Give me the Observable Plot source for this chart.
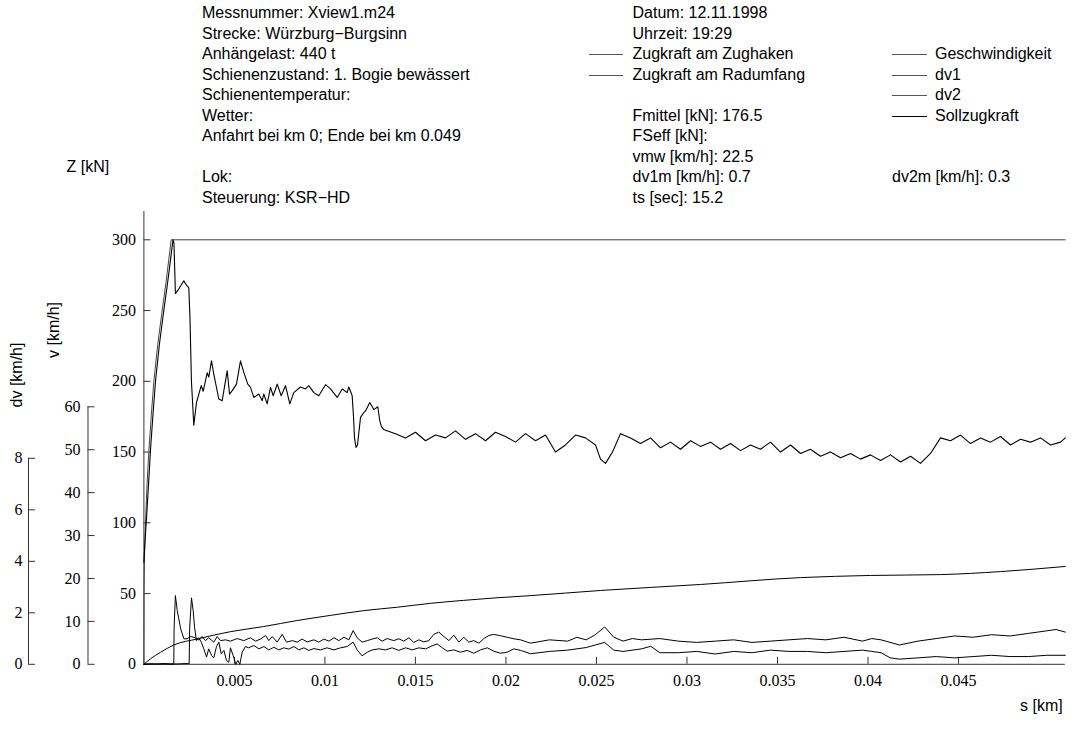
<!DOCTYPE html>
<html><head><meta charset="utf-8">
<script src="https://cdn.jsdelivr.net/npm/d3@7"></script>
<script src="https://cdn.jsdelivr.net/npm/@observablehq/plot@0.6"></script>
<style>
body{margin:0;background:#fff;}
#wrap{position:relative;width:1087px;height:732px;overflow:hidden;font-family:"Liberation Sans",Arial,sans-serif;font-size:16px;color:#000;}
.t{position:absolute;white-space:nowrap;line-height:20px;height:20px;}
.lg{position:absolute;height:0;border-top:1px solid #555;}
.rot{position:absolute;white-space:nowrap;transform:translate(-50%,-50%) rotate(-90deg);}
.plotlayer text{font-family:"Liberation Serif","Times New Roman","DejaVu Serif",serif !important;}
</style></head><body><div id="wrap"></div>
<script>
// ---------- data ----------
const xTicks = [0.005, 0.01, 0.015, 0.02, 0.025, 0.03, 0.035, 0.04, 0.045];
const zTicks = [0, 50, 100, 150, 200, 250, 300];
const vTicks = [0, 10, 20, 30, 40, 50, 60];
const dvTicks = [0, 2, 4, 6, 8];

const sollKm = [0, 0.00001, 0.00004, 0.000089, 0.000173, 0.000271, 0.000407, 0.00055, 0.000764, 0.001008, 0.001222, 0.001507, 0.0509];
const sollKN = [0, 55, 80, 100, 127, 150, 176, 200, 226, 250, 270, 300, 300];

const forceKm = [0, 0.000051, 0.000153, 0.000255, 0.000366, 0.000499, 0.000641, 0.000855, 0.001099, 0.001323, 0.001608, 0.001659, 0.001741, 0.001914, 0.002204, 0.002352, 0.002481, 0.002545, 0.002626,
 0.002757, 0.002905, 0.003016, 0.003165, 0.003276, 0.003497, 0.003585, 0.003734, 0.003861, 0.004137, 0.004325, 0.004601, 0.004729, 0.004878, 0.005115, 0.005336, 0.005519, 0.005739, 0.005889, 0.006071,
 0.006347, 0.006536, 0.006623, 0.006811, 0.006994, 0.007143, 0.007364, 0.007585, 0.007822, 0.00806, 0.00828, 0.008651, 0.008927, 0.009109, 0.009386, 0.009662, 0.010032, 0.010308, 0.010679, 0.010955,
 0.011231, 0.011319, 0.011506, 0.011579, 0.011634, 0.011717, 0.0118, 0.011966, 0.012148, 0.012241, 0.012479, 0.0127, 0.012921, 0.013031, 0.013125,
 0.013236, 0.013899, 0.014451, 0.015004, 0.015556, 0.016109, 0.016661, 0.017213, 0.017766, 0.018318, 0.018871, 0.019423, 0.019976, 0.020528, 0.021081, 0.021633, 0.022185, 0.022738, 0.02329, 0.023843, 0.024395, 0.024948, 0.025224, 0.0255, 0.025887, 0.026329,
 0.026881, 0.027433, 0.027986, 0.028538, 0.029091, 0.029643, 0.030196, 0.030748, 0.0313, 0.031853, 0.032405, 0.032958, 0.03351, 0.034063, 0.034615, 0.035167, 0.03572, 0.036272, 0.036825, 0.037377, 0.03793, 0.038482, 0.039035, 0.039587, 0.040139, 0.040692,
 0.041244, 0.041797, 0.042349, 0.042902, 0.043454, 0.044006, 0.044559, 0.045111, 0.045664, 0.046216, 0.046769, 0.047321, 0.047873, 0.048426, 0.048978, 0.049531, 0.050083, 0.050636, 0.0509];
const forceKN = [72, 85, 105, 127, 152, 176, 200, 226, 250, 271, 300, 298, 262, 265, 271, 268, 266, 245, 200,
 169, 185, 190, 197, 193, 206, 203, 214.5, 205, 187.5, 186.3, 207.5, 191, 193.4, 198, 214.5, 206.3, 198, 195.7, 188.6,
 191, 186.3, 191, 184, 195.7, 189.8, 198, 189.8, 196.9, 184, 192, 196, 194.6, 196.9, 192, 189.8, 197.6, 194.6, 188.6, 194.6,
 192, 196, 189.8, 175, 160, 153.3, 155, 174.5, 178, 179, 185, 180, 182, 172, 168,
 166, 163, 160, 164, 158, 162, 160, 165, 159, 163, 158, 164, 161, 157, 163, 158, 162, 150, 155, 162, 160, 155, 145, 142, 150, 163,
 160, 156, 160, 153, 157, 152, 158, 154, 157, 152, 156, 151, 155, 152, 157, 150, 155, 149, 152, 147, 150, 146, 149, 145, 148, 144,
 148, 143, 147, 142, 149, 160, 158, 162, 156, 160, 157, 161, 155, 159, 157, 160, 155, 157, 160];

const speedKm = [0, 0.00037, 0.00092, 0.00165, 0.00295, 0.00478, 0.00662, 0.00847, 0.01031, 0.01214, 0.014, 0.01583, 0.01767, 0.01951, 0.02136, 0.025224, 0.030748, 0.036272, 0.040139, 0.044006, 0.047321, 0.0509];
const speedV = [0, 1.3, 2.8, 4.5, 5.9, 7.6, 8.8, 10.2, 11.4, 12.5, 13.3, 14.2, 14.9, 15.5, 16.0, 17.2, 18.6, 20.2, 20.7, 20.9, 21.6, 22.8];

const dv1Km = [0, 0.00037, 0.00073, 0.0011, 0.00147, 0.00165, 0.00167, 0.00174, 0.00184, 0.00203, 0.00221, 0.00239, 0.00258, 0.00285, 0.00303, 0.00322, 0.0034, 0.00358, 0.00386, 0.00405, 0.00423, 0.00451, 0.00478, 0.00515, 0.00552, 0.00588,
 0.00617, 0.00644, 0.00672, 0.0069, 0.00709, 0.00736, 0.00764, 0.00788, 0.0082, 0.00847, 0.00874, 0.00902, 0.00939, 0.00966, 0.00994, 0.01022, 0.0105, 0.01077, 0.01105, 0.01132, 0.01156, 0.01178, 0.01205, 0.01234, 0.01261,
 0.01289, 0.01316, 0.01344, 0.0138, 0.01408, 0.01436, 0.01464, 0.01491, 0.01519, 0.01546, 0.01574, 0.01601, 0.01629, 0.01657, 0.01685, 0.01712, 0.0174, 0.01767, 0.01795, 0.01822, 0.01851, 0.01878, 0.01906, 0.01933, 0.0197,
 0.02007, 0.02043, 0.02081, 0.02136, 0.0224, 0.02341, 0.02392, 0.02443, 0.02494, 0.02545, 0.02596, 0.02647, 0.02698, 0.02749, 0.0285, 0.02952, 0.03054, 0.03156, 0.03258, 0.03359, 0.03461, 0.03563, 0.03665, 0.03767, 0.03868, 0.0397, 0.04021, 0.04072, 0.04174, 0.04276,
 0.04377, 0.04479, 0.04581, 0.04683, 0.04785, 0.04886, 0.04988, 0.05039, 0.0509];
const dv1Val = [0, 0.02, 0.01, 0.03, 0.01, 0.02, 1.44, 2.67, 2.09, 1.38, 0.99, 0.99, 1.08, 1.03, 0.95, 1.08, 0.92, 1.03, 0.86, 1.08, 0.92, 0.95, 0.90, 1.00, 0.92, 1.03,
 0.90, 0.98, 1.12, 0.92, 1.08, 0.86, 1.16, 0.86, 0.92, 0.86, 0.98, 0.87, 0.95, 0.86, 0.98, 0.90, 1.03, 0.92, 1.05, 0.95, 1.31, 1.03, 0.86, 0.92, 0.98,
 1.03, 0.90, 1.00, 0.92, 0.99, 0.90, 1.03, 0.85, 0.95, 0.87, 0.92, 1.16, 1.25, 1.08, 0.92, 1.13, 0.86, 1.05, 0.86, 0.92, 0.82, 1.00, 1.12, 1.16, 1.11,
 1.05, 0.99, 0.95, 0.82, 0.95, 0.9, 1.05, 0.95, 1.15, 1.45, 1.05, 0.9, 1.0, 0.95, 1.0, 0.9, 0.85, 0.9, 0.95, 0.85, 0.9, 0.95, 1.0, 0.95, 1.05, 0.9, 1.0, 0.95, 0.75, 0.9,
 1.0, 1.1, 1.05, 1.15, 1.1, 1.2, 1.3, 1.35, 1.25];

const dv2Km = [0, 0.00055, 0.0011, 0.00165, 0.00203, 0.00239, 0.0025, 0.00253, 0.00263, 0.00272, 0.0028, 0.0029, 0.00303, 0.00317, 0.00331, 0.00346, 0.00358, 0.00374, 0.00386, 0.00401, 0.00414, 0.00427, 0.00442, 0.00456, 0.00469,
 0.00478, 0.00493, 0.00508, 0.00519, 0.0053, 0.00543, 0.00561, 0.00579, 0.00608, 0.00635, 0.00663, 0.0069, 0.00718, 0.00745, 0.00773, 0.008, 0.00829, 0.00856, 0.00884, 0.00911, 0.00939, 0.00975, 0.01012, 0.0105, 0.01086,
 0.01123, 0.01156, 0.01178, 0.01205, 0.01234, 0.01261, 0.01298, 0.01335, 0.01371, 0.01408, 0.01446, 0.01482, 0.01519, 0.01556, 0.01592, 0.0162, 0.01648, 0.01676, 0.01712, 0.01749, 0.01786, 0.01822, 0.0186, 0.01897, 0.01933,
 0.0197, 0.02007, 0.02043, 0.02081, 0.02136, 0.0224, 0.02341, 0.02443, 0.02545, 0.02596, 0.02647, 0.02749, 0.028, 0.0285, 0.02952, 0.03054, 0.03156, 0.03258, 0.03359, 0.03461, 0.03563, 0.03665, 0.03767, 0.03868, 0.0397, 0.04021, 0.04072, 0.04123, 0.04174, 0.04276,
 0.04377, 0.04479, 0.04581, 0.04683, 0.04785, 0.04886, 0.04988, 0.0509];
const dv2Val = [0, 0.01, 0.01, 0.01, 0.02, 0.03, 0.02, 1.44, 2.58, 2.09, 1.44, 0.92, 1.03, 0.86, 0.60, 0.28, 0.60, 0.34, 0.25, 0.69, 0.86, 0.41, 0.54, 0.15, 0.08,
 0.64, 0.34, 0, 0.15, 0, 0.47, 0.69, 0.64, 0.73, 0.60, 0.69, 0.56, 0.66, 0.56, 0.64, 0.59, 0.69, 0.56, 0.64, 0.54, 0.61, 0.56, 0.64, 0.56, 0.64,
 0.69, 0.86, 0.56, 0.33, 0.47, 0.56, 0.60, 0.56, 0.64, 0.54, 0.64, 0.56, 0.64, 0.60, 0.72, 0.79, 0.64, 0.51, 0.56, 0.47, 0.54, 0.43, 0.56, 0.64, 0.51,
 0.43, 0.47, 0.60, 0.54, 0.41, 0.5, 0.55, 0.65, 0.85, 0.55, 0.5, 0.6, 0.7, 0.45, 0.45, 0.5, 0.4, 0.5, 0.45, 0.55, 0.5, 0.5, 0.45, 0.5, 0.55, 0.5, 0.45, 0.25, 0.2, 0.25,
 0.3, 0.25, 0.3, 0.35, 0.3, 0.3, 0.35, 0.35];

const headLeft = [[0,"Messnummer: Xview1.m24"],[1,"Strecke: Würzburg−Burgsinn"],[2,"Anhängelast: 440 t"],[3,"Schienenzustand: 1. Bogie bewässert"],[4,"Schienentemperatur:"],[5,"Wetter:"],[6,"Anfahrt bei km 0; Ende bei km 0.049"],[8,"Lok:"],[9,"Steuerung: KSR−HD"]];
const headMid = [[0,"Datum: 12.11.1998"],[1,"Uhrzeit: 19:29"],[5,"Fmittel [kN]: 176.5"],[6,"FSeff [kN]:"],[7,"vmw [km/h]: 22.5"],[8,"dv1m [km/h]: 0.7"],[9,"ts [sec]: 15.2"]];
const legendMid = [[2,"Zugkraft am Zughaken"],[3,"Zugkraft am Radumfang"]];
const legendRight = [[2,"Geschwindigkeit"],[3,"dv1"],[4,"dv2"],[5,"Sollzugkraft","#000"]];
const headRight = [[8,"dv2m [km/h]: 0.3"]];

// ---------- build ----------
const zip = (xs, ys) => xs.map((x, i) => ({x, y: ys[i]}));
const soll = zip(sollKm, sollKN), force = zip(forceKm, forceKN), speed = zip(speedKm, speedV), dv1 = zip(dv1Km, dv1Val), dv2 = zip(dv2Km, dv2Val);

const wrap = document.getElementById("wrap");
const rowY = i => 13 + 20.5 * i;
function addText(x, row, s) { const d = document.createElement("div"); d.className = "t"; d.style.left = x + "px"; d.style.top = (rowY(row) - 10) + "px"; d.textContent = s; wrap.appendChild(d); }
function addLine(x, w, row, c) { const d = document.createElement("div"); d.className = "lg"; d.style.left = x + "px"; d.style.width = w + "px"; d.style.top = Math.round(rowY(row)) + "px"; if (c) d.style.borderTopColor = c; wrap.appendChild(d); }
headLeft.forEach(([r, s]) => addText(202, r, s));
headMid.forEach(([r, s]) => addText(632.5, r, s));
legendMid.forEach(([r, s]) => { addLine(589, 34, r); addText(632.5, r, s); });
legendRight.forEach(([r, s, c]) => { addLine(892, 35, r, c); addText(935, r, s); });
headRight.forEach(([r, s]) => addText(892, r, s));

const W = 1087, H = 732, mL = 143.4, mR = 22.2, mT = 211, mB = 68.2;
const base = {width: W, height: H, marginLeft: mL, marginRight: mR, marginTop: mT, marginBottom: mB,
  style: "background: transparent; font-size: 16px; overflow: visible; position: absolute; left: 0px; top: 0px;"};
const axisC = "#333";
const xDomain = [0, 0.0509];

const main = Plot.plot({...base,
  x: {domain: xDomain}, y: {domain: [0, 320]},
  marks: [
    Plot.ruleX([0], {stroke: axisC}),
    Plot.ruleY([0], {stroke: axisC}),
    Plot.axisX({ticks: xTicks, tickSize: -7, tickPadding: 17, tickFormat: d => String(d), stroke: axisC, fill: "#000", label: null}),
    Plot.axisY({ticks: zTicks, tickSize: -7, tickPadding: 15, stroke: axisC, fill: "#000", label: null}),
    Plot.line(soll, {x: "x", y: "y", stroke: "#444", strokeWidth: 1}),
    Plot.line(force, {x: "x", y: "y", stroke: "#000", strokeWidth: 1.1})
  ]});
const vPlot = Plot.plot({...base,
  x: {domain: xDomain, axis: null}, y: {domain: [0, 60], range: [663.8, 406.3]},
  marks: [
    Plot.ruleX([0], {y1: 0, y2: 60, dx: 87.5 - mL, stroke: axisC}),
    Plot.axisY({ticks: vTicks, tickSize: -7, tickPadding: 14.5, dx: 87.5 - mL, stroke: axisC, fill: "#000", label: null}),
    Plot.line(speed, {x: "x", y: "y", stroke: "#000", strokeWidth: 1, curve: "monotone-x"})
  ]});
const dvPlot = Plot.plot({...base,
  x: {domain: xDomain, axis: null}, y: {domain: [0, 8], range: [663.8, 457.8]},
  marks: [
    Plot.ruleX([0], {y1: 0, y2: 8, dx: 28 - mL, stroke: axisC}),
    Plot.axisY({ticks: dvTicks, tickSize: -7, tickPadding: 13, dx: 28 - mL, stroke: axisC, fill: "#000", label: null}),
    Plot.line(dv1, {x: "x", y: "y", stroke: "#000", strokeWidth: 1}),
    Plot.line(dv2, {x: "x", y: "y", stroke: "#000", strokeWidth: 1})
  ]});
[main, vPlot, dvPlot].forEach(p => {
  p.classList.add("plotlayer");
  p.setAttribute("font-family", "Liberation Serif, DejaVu Serif, serif");
  wrap.appendChild(p);
});

function addAbs(cls, x, y, s) { const d = document.createElement("div"); d.className = cls; d.style.left = x + "px"; d.style.top = y + "px"; d.textContent = s; wrap.appendChild(d); return d; }
addAbs("t", 66.5, 157, "Z [kN]");
addAbs("t", 1020, 696, "s [km]");
addAbs("rot", 54, 330, "v [km/h]");
addAbs("rot", 17, 375, "dv [km/h]");
</script></body></html>
